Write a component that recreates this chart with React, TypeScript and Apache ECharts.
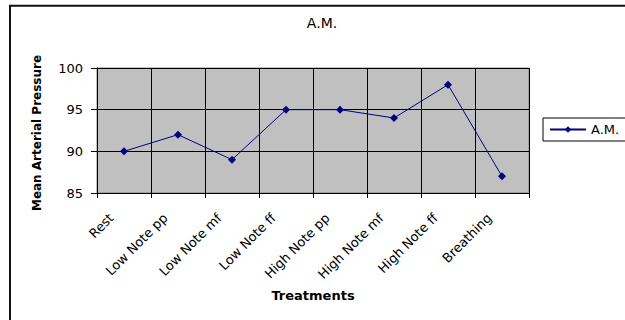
import React, { useEffect, useRef } from 'react';
import * as echarts from 'echarts';

const categories = ['Rest', 'Low Note pp', 'Low Note mf', 'Low Note ff', 'High Note pp', 'High Note mf', 'High Note ff', 'Breathing'];
const amValues = [90, 92, 89, 95, 95, 94, 98, 87];
const seriesName = 'A.M.';
const chartTitle = 'A.M.';
const yAxisTitle = 'Mean Arterial Pressure';
const xAxisTitle = 'Treatments';
const yMin = 85;
const yMax = 100;
const yStep = 5;

const FONT = '"DejaVu Sans", "Liberation Sans", Arial, sans-serif';

export default function App() {
  const ref = useRef<HTMLDivElement>(null);
  useEffect(() => {
    if (!ref.current) return;
    const chart = echarts.init(ref.current, null, { renderer: 'svg' });
    chart.setOption({
      animation: false,
      backgroundColor: '#ffffff',
      textStyle: { fontFamily: FONT },
      grid: {
        left: 97,
        top: 68,
        right: 96,
        bottom: 127,
        show: true,
        backgroundColor: '#C0C0C0',
        borderColor: '#808080',
        borderWidth: 1,
      },
      legend: {
        data: [seriesName],
        left: 543,
        top: 118,
        orient: 'vertical',
        padding: [5, 14, 5, 6],
        borderColor: '#000',
        borderWidth: 1,
        itemWidth: 36,
        itemHeight: 8,
        textStyle: { fontSize: 13, color: '#000', fontFamily: FONT },
      },
      xAxis: {
        type: 'category',
        data: categories,
        boundaryGap: true,
        axisLine: { show: true, lineStyle: { color: '#000', width: 1 } },
        axisTick: { show: true, length: 5, lineStyle: { color: '#000' } },
        splitLine: { show: true, lineStyle: { color: '#000', width: 1 } },
        axisLabel: {
          rotate: 45,
          interval: 0,
          margin: 10,
          padding: [0, 18, 0, 0],
          fontSize: 13,
          color: '#000',
          fontFamily: FONT,
        },
      },
      yAxis: {
        type: 'value',
        min: yMin,
        max: yMax,
        interval: yStep,
        axisLine: { show: true, lineStyle: { color: '#000', width: 1 } },
        axisTick: { show: true, length: 6, lineStyle: { color: '#000' } },
        splitLine: { show: true, lineStyle: { color: '#000', width: 1 } },
        axisLabel: { margin: 14, fontSize: 13, color: '#000', fontFamily: FONT },
      },
      series: [
        {
          name: seriesName,
          type: 'line',
          data: amValues,
          symbol: 'diamond',
          symbolSize: 8,
          lineStyle: { color: '#000080', width: 1 },
          itemStyle: { color: '#000080' },
        },
      ],
      graphic: [
        {
          type: 'rect',
          shape: { x: 10, y: 5.7, width: 800, height: 600 },
          style: { fill: 'none', stroke: '#111', lineWidth: 2 },
          silent: true,
        },
        {
          type: 'text',
          x: 322,
          y: 23,
          style: { text: chartTitle, fill: '#000', font: '14px ' + FONT, textAlign: 'center', textVerticalAlign: 'middle' },
        },
        {
          type: 'text',
          x: 37,
          y: 133,
          rotation: Math.PI / 2,
          style: { text: yAxisTitle, fill: '#000', font: 'bold 12px ' + FONT, textAlign: 'center', textVerticalAlign: 'middle' },
        },
        {
          type: 'text',
          x: 313,
          y: 295,
          style: { text: xAxisTitle, fill: '#000', font: 'bold 13px ' + FONT, textAlign: 'center', textVerticalAlign: 'middle' },
        },
      ],
    });
    return () => chart.dispose();
  }, []);
  return <div ref={ref} style={{ position: 'absolute', left: 0, top: 0, width: 625, height: 320 }} />;
}
